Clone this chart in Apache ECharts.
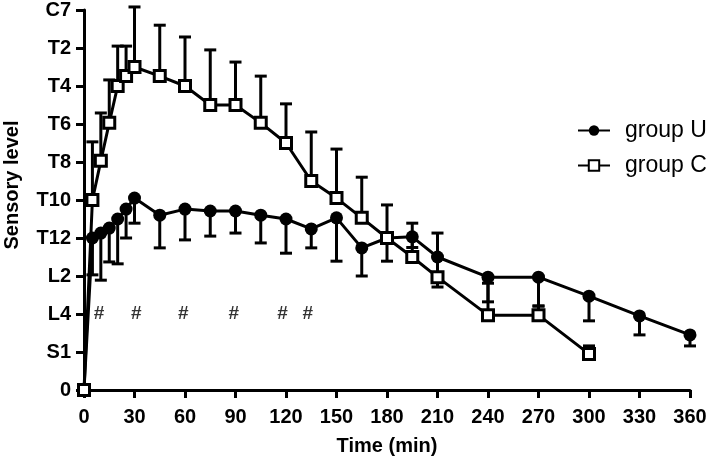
<!DOCTYPE html>
<html>
<head>
<meta charset="utf-8">
<script src="https://cdn.jsdelivr.net/npm/echarts@6/dist/echarts.min.js"></script>
<style>html,body{margin:0;padding:0;background:#fff}#c{width:709px;height:467px}</style>
</head>
<body>
<div id="c"></div>
<script>
const yLabels = ['0','S1','L4','L2','T12','T10','T8','T6','T4','T2','C7'];
const xTicks = [0,30,60,90,120,150,180,210,240,270,300,330,360];

const timesU = [0,5,10,15,20,25,30,45,60,75,90,105,120,135,150,165,180,195,210,240,270,300,330,360];
const groupU = [0,4.0,4.13,4.26,4.5,4.76,5.05,4.6,4.76,4.71,4.71,4.6,4.5,4.24,4.53,3.74,4.0,4.03,3.5,2.97,2.97,2.47,1.95,1.45];
const errU   = [0,0.97,1.24,0.89,1.18,0.76,0.66,0.86,0.81,0.66,0.58,0.73,0.9,0.5,1.14,0.74,0.61,0.28,0.79,0.65,0.76,0.65,0.5,0.29];

const timesC = [0,5,10,15,20,25,30,45,60,75,90,105,120,135,150,165,180,195,210,240,270,300];
const groupC = [0,5,6.03,7.03,8,8.26,8.5,8.26,8,7.5,7.5,7.03,6.5,5.5,5.05,4.53,4.0,3.5,2.97,1.97,1.97,0.95];
const errC   = [0,1.53,1.26,1.13,1.05,0.79,1.58,1.34,1.29,1.45,1.13,1.23,1.03,1.29,1.29,1.07,0.87,0.89,1.16,0.84,0.24,0.21];

const sigTimes = [9,31,59,89,118,133];
const sigLevel = 2;

const FONT = '"Liberation Sans", Arial, sans-serif';

function errSeries(times, vals, errs, dir) {
  return {
    type: 'custom',
    z: 1,
    silent: true,
    clip: false,
    data: times.map((t, i) => [t, vals[i], errs[i]]),
    renderItem: function (params, api) {
      const t = api.value(0), v = api.value(1), e = api.value(2);
      if (!e) return null;
      const p0 = api.coord([t, v]);
      const p1 = api.coord([t, v + dir * e]);
      const hw = 6;
      const style = {stroke: '#000', lineWidth: 3};
      return {
        type: 'group',
        children: [
          {type: 'line', shape: {x1: p0[0], y1: p0[1], x2: p1[0], y2: p1[1]}, style: style},
          {type: 'line', shape: {x1: p1[0] - hw, y1: p1[1], x2: p1[0] + hw, y2: p1[1]}, style: style}
        ]
      };
    }
  };
}

const chart = echarts.init(document.getElementById('c'));
chart.setOption({
  animation: false,
  backgroundColor: '#fff',
  grid: {left: 84, right: 19, top: 10, bottom: 77, containLabel: false, outerBoundsMode: 'none'},
  legend: {
    data: ['group U', 'group C'],
    orient: 'vertical',
    left: 572,
    top: 114,
    itemWidth: 32,
    itemHeight: 13,
    itemGap: 12,
    textStyle: {fontFamily: FONT, fontSize: 23, color: '#000', padding: [0, 0, 0, 10]}
  },
  xAxis: {
    type: 'value',
    min: 0, max: 360, interval: 30,
    name: 'Time (min)',
    nameLocation: 'middle',
    nameGap: 46,
    nameTextStyle: {fontFamily: FONT, fontSize: 20, fontWeight: 'bold', color: '#000'},
    axisLine: {show: true, lineStyle: {color: '#000', width: 3}},
    axisTick: {show: true, length: 8, lineStyle: {color: '#000', width: 3}},
    axisLabel: {margin: 17, fontFamily: FONT, fontSize: 20, fontWeight: 'bold', color: '#000',
      formatter: v => xTicks.indexOf(v) >= 0 ? String(v) : ''},
    splitLine: {show: false}
  },
  yAxis: {
    type: 'value',
    min: 0, max: 10, interval: 1,
    name: 'Sensory level',
    nameLocation: 'middle',
    nameGap: 62,
    nameTextStyle: {fontFamily: FONT, fontSize: 20, fontWeight: 'bold', color: '#000', padding: [0, 0, 0, 30]},
    axisLine: {show: true, lineStyle: {color: '#000', width: 3}},
    axisTick: {show: true, length: 8, lineStyle: {color: '#000', width: 3}},
    axisLabel: {margin: 13, fontFamily: FONT, fontSize: 20, fontWeight: 'bold', color: '#000',
      formatter: v => yLabels[Math.round(v)]},
    splitLine: {show: false}
  },
  series: [
    errSeries(timesU, groupU, errU, -1),
    errSeries(timesC, groupC, errC, 1),
    {
      name: 'group U',
      type: 'line',
      z: 3,
      data: timesU.map((t, i) => [t, groupU[i]]),
      symbol: 'circle',
      symbolSize: 13,
      lineStyle: {color: '#000', width: 3},
      itemStyle: {color: '#000', borderColor: '#000', borderWidth: 0}
    },
    {
      name: 'group C',
      type: 'line',
      z: 4,
      data: timesC.map((t, i) => [t, groupC[i]]),
      symbol: 'rect',
      symbolSize: 11,
      lineStyle: {color: '#000', width: 3},
      itemStyle: {color: '#fff', borderColor: '#000', borderWidth: 3}
    },
    {
      type: 'scatter',
      z: 5,
      silent: true,
      data: sigTimes.map(t => [t, sigLevel]),
      symbolSize: 1,
      itemStyle: {color: 'rgba(0,0,0,0)'},
      label: {show: true, position: 'inside', formatter: '#', fontFamily: FONT, fontSize: 19, fontWeight: 'bold', color: '#000'}
    }
  ]
});
</script>
</body>
</html>
